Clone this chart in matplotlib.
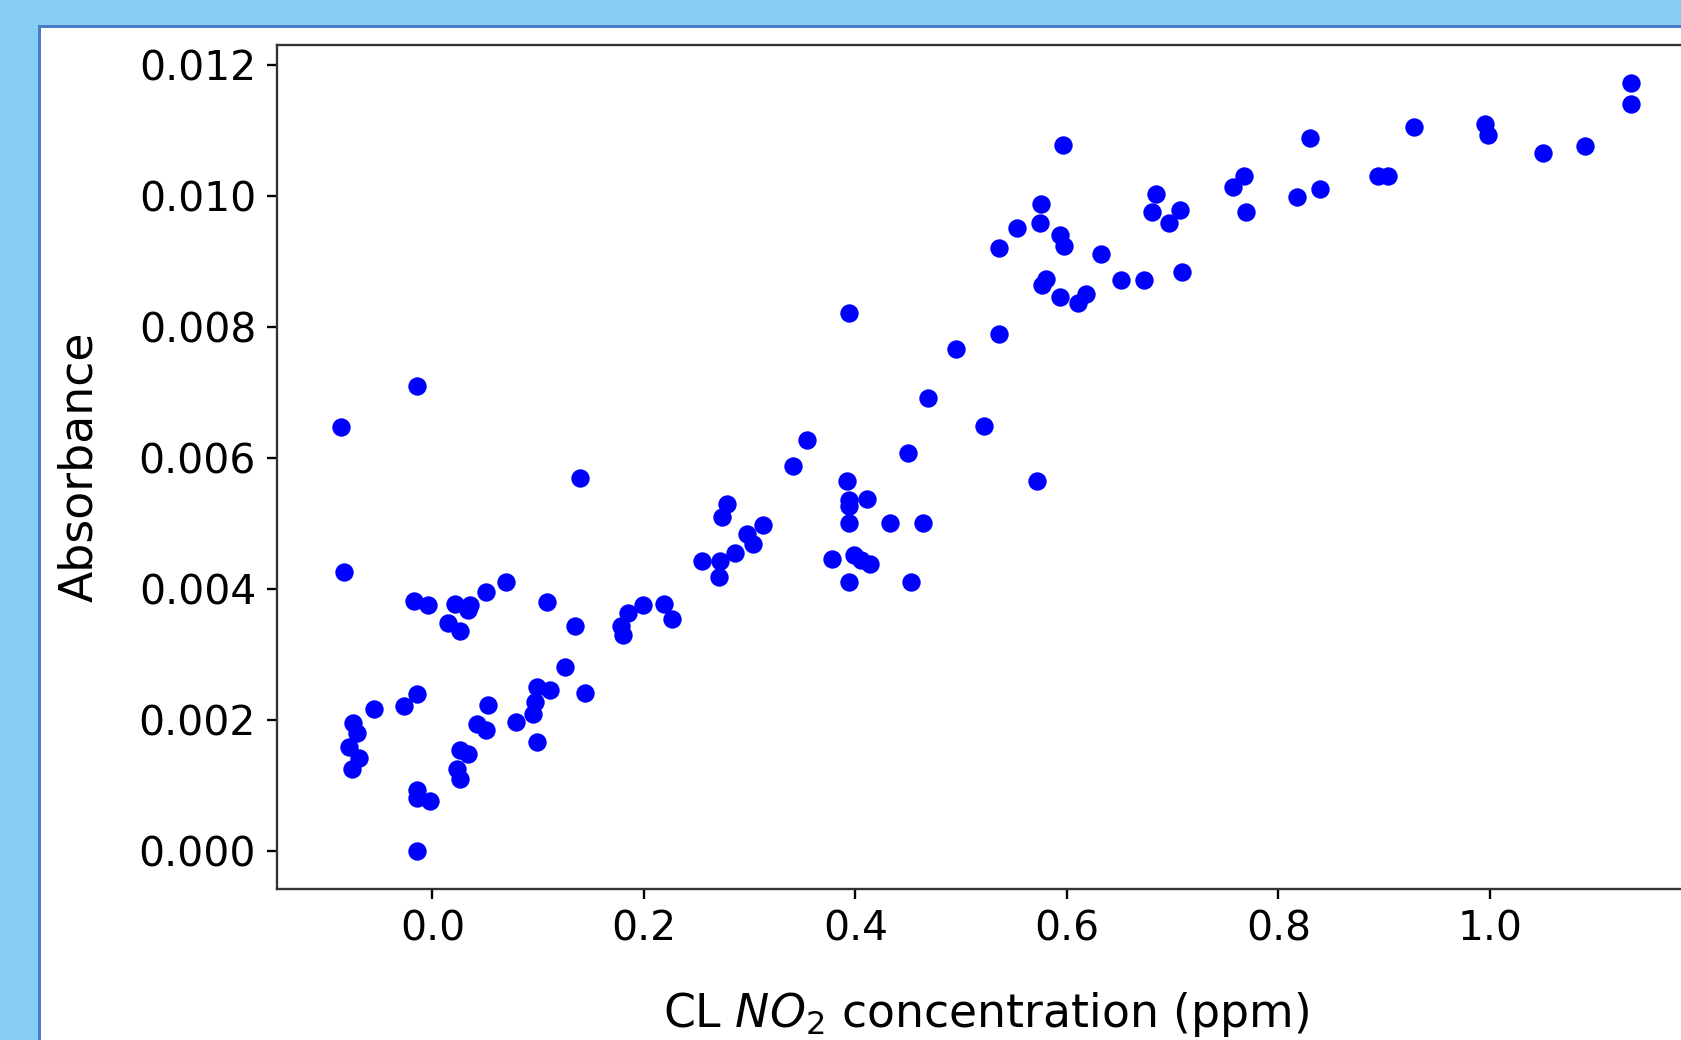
import numpy as np
import matplotlib
matplotlib.use('Agg')
import matplotlib.pyplot as plt
from matplotlib.patches import Rectangle


# CL NO2 concentration (ppm)
conc = [
    -0.0865, -0.0837, -0.0144, -0.0172, -0.0045, 0.0216, 0.0355, 0.0339, 0.0149, 0.026,
    0.0506, 0.0698, 0.108, 0.1348, 0.1395, -0.0553, -0.0749, -0.0717, -0.0787, -0.0692,
    -0.0764, -0.027, -0.0144, -0.0149, -0.0149, -0.0024, -0.0144, 0.026, 0.0339, 0.0235,
    0.026, 0.0418, 0.0506, 0.0528, 0.0787, 0.0948, 0.0969, 0.0985, 0.0985, 0.1111,
    0.1253, 0.1442,
    0.1783, 0.1804, 0.1852, 0.1993, 0.2189, 0.2262, 0.2546, 0.2719, 0.2712, 0.2788,
    0.274, 0.286, 0.2977, 0.3028, 0.3128, 0.3412, 0.3539, 0.3775, 0.3917, 0.394,
    0.394, 0.411, 0.394, 0.394, 0.3986, 0.405, 0.4137, 0.394, 0.4326, 0.450,
    0.4522, 0.464, 0.4688, 0.495,
    0.5218, 0.536, 0.536, 0.553, 0.572, 0.5751, 0.5745, 0.580, 0.5766, 0.5965,
    0.5934, 0.5975, 0.5934, 0.6107, 0.618, 0.632, 0.6515, 0.673, 0.709, 0.6838,
    0.680, 0.7066, 0.697, 0.767, 0.757, 0.7696, 0.830, 0.8176, 0.8397, 0.894,
    0.904, 0.9283, 0.9955, 0.998, 1.0506, 1.0895, 1.133, 1.133,
]

absorbance = [
    0.00647, 0.00426, 0.0071, 0.00382, 0.00375, 0.00376, 0.00375, 0.00367, 0.00348, 0.00335,
    0.00395, 0.0041, 0.0038, 0.00343, 0.00569, 0.00217, 0.00195, 0.0018, 0.00158, 0.00142,
    0.00125, 0.00221, 0.00239, 0.00092, 0.00081, 0.00076, 0.0, 0.00154, 0.00147, 0.00125,
    0.00109, 0.00194, 0.00184, 0.00222, 0.00197, 0.00208, 0.00227, 0.0025, 0.00166, 0.00245,
    0.0028, 0.00241,
    0.00343, 0.0033, 0.00363, 0.00375, 0.00376, 0.00354, 0.00442, 0.00442, 0.00418, 0.0053,
    0.00509, 0.00454, 0.00484, 0.00469, 0.00498, 0.00587, 0.00627, 0.00446, 0.00565, 0.00536,
    0.00526, 0.00537, 0.00501, 0.0041, 0.00451, 0.00444, 0.00438, 0.00821, 0.00501, 0.00608,
    0.0041, 0.00501, 0.00691, 0.00766,
    0.00648, 0.00789, 0.0092, 0.00951, 0.00564, 0.00988, 0.00959, 0.00873, 0.00864, 0.01078,
    0.00941, 0.00923, 0.00845, 0.00836, 0.0085, 0.00912, 0.00872, 0.00872, 0.00884, 0.01003,
    0.00975, 0.00979, 0.00958, 0.0103, 0.01014, 0.00975, 0.01089, 0.00999, 0.0101, 0.0103,
    0.0103, 0.01105, 0.0111, 0.01093, 0.01065, 0.01077, 0.01172, 0.0114,
]

W, H, DPI = 1681, 1040, 210

fig = plt.figure(figsize=(W / DPI, H / DPI), dpi=DPI, facecolor='#87CEF5')

# white panel of the window with its blue border
panel = Rectangle((38.5 / W, -0.1), 1.2, (H - 25.5) / H + 0.1,
                  transform=fig.transFigure, facecolor='white',
                  edgecolor='#4A7BC8', linewidth=3 * 72 / DPI, zorder=-10)
fig.patches.append(panel)

# axes run past the right edge of the picture (screenshot is cut off)
ax = fig.add_axes([276.5 / W, (H - 889) / H, (1695 - 276.5) / W, (889 - 45) / H])

ax.plot(conc, absorbance, 'o', color='blue', markersize=6.3, markeredgewidth=0)

ax.set_xticks(np.arange(0, 1.01, 0.2))
ax.set_yticks(np.arange(0, 0.0121, 0.002))
ax.tick_params(labelsize=14)
for s in ax.spines.values():
    s.set_color('#333333')
ax.set_xlabel(r'CL $NO_2$ concentration (ppm)', fontsize=15.7, labelpad=14)
ax.set_ylabel('Absorbance', fontsize=15.7, labelpad=12.5)

fig.savefig('out.png', dpi=DPI)
